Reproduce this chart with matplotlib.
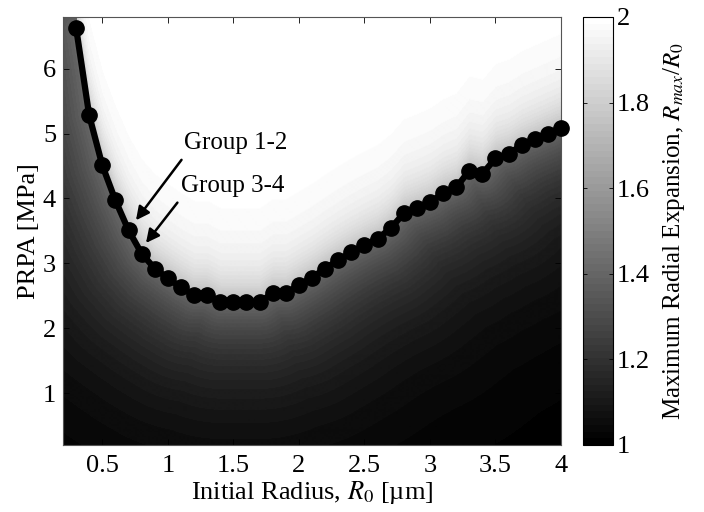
import numpy as np
import matplotlib.pyplot as plt
from matplotlib.colors import ListedColormap

plt.rcParams['font.family'] = ['Liberation Serif', 'DejaVu Serif']
plt.rcParams['mathtext.fontset'] = 'stix'
plt.rcParams['font.size'] = 19

# threshold curve
r0 = [0.3, 0.4, 0.5, 0.6, 0.7, 0.8, 0.9, 1.0, 1.1, 1.2, 1.3, 1.4, 1.5,
      1.6, 1.7, 1.8, 1.9, 2.0, 2.1, 2.2, 2.3, 2.4, 2.5, 2.6, 2.7, 2.8,
      2.9, 3.0, 3.1, 3.2, 3.3, 3.4, 3.5, 3.6, 3.7, 3.8, 3.9, 4.0]
prpa = [6.63, 5.28, 4.51, 3.97, 3.51, 3.15, 2.92, 2.77, 2.63, 2.51, 2.51,
        2.40, 2.40, 2.40, 2.40, 2.54, 2.54, 2.66, 2.78, 2.92, 3.05, 3.17,
        3.28, 3.38, 3.54, 3.77, 3.85, 3.94, 4.08, 4.17, 4.43, 4.38, 4.62,
        4.69, 4.82, 4.91, 5.00, 5.09]

xticks = [0.5, 1, 1.5, 2, 2.5, 3, 3.5, 4]
yticks = [1, 2, 3, 4, 5, 6]
cticks = [1, 1.2, 1.4, 1.6, 1.8, 2]

xlim = (0.2, 4.0)
ylim = (0.2, 6.8)

fig = plt.figure(figsize=(7.04, 5.12), dpi=100)
ax = fig.add_axes([0.0895, 0.131, 0.7074, 0.836])
cax = fig.add_axes([0.828, 0.131, 0.0426, 0.836])

# background map built around the threshold curve:
# below it the grey fades with pixel distance, above it goes white quickly
sx = 498 / (xlim[1] - xlim[0])
sy = 428 / (ylim[1] - ylim[0])
gx = np.linspace(xlim[0], xlim[1], 500)
gy = np.linspace(ylim[0], ylim[1], 430)
X, Y = np.meshgrid(gx, gy)
cx = np.array(r0) * sx
cy = np.array(prpa) * sy
px, py = X * sx, Y * sy
dist = np.full(X.shape, np.inf)
for i in range(len(cx) - 1):
    dx, dy = cx[i+1] - cx[i], cy[i+1] - cy[i]
    t = np.clip(((px - cx[i]) * dx + (py - cy[i]) * dy) / (dx*dx + dy*dy), 0, 1)
    d = np.hypot(px - cx[i] - t*dx, py - cy[i] - t*dy)
    dist = np.minimum(dist, d)
pc = np.interp(X, r0, prpa)
above = (Y > pc) & (X >= r0[0])
field = np.where(above, 2 - 0.28*np.exp(-(Y - pc)/0.5), 1 + 0.42*np.exp(-dist/72))

cmap = ListedColormap(plt.get_cmap('gray')(np.linspace(0, 1, 64)))
im = ax.imshow(field, extent=[xlim[0], xlim[1], ylim[0], ylim[1]], origin='lower',
               cmap=cmap, vmin=1, vmax=2, aspect='auto', interpolation='bilinear')

ax.plot(r0, prpa, '-o', color='k', lw=4.5, ms=11, clip_on=False, zorder=3)

ax.text(1.125, 4.86, 'Group 1-2', va='center', ha='left', fontsize=18)
ax.text(1.10, 4.20, 'Group 3-4', va='center', ha='left', fontsize=18)
ax.annotate('', xy=(0.744, 3.63), xytext=(1.117, 4.63),
            arrowprops=dict(arrowstyle='-|>', color='k', lw=1.8, mutation_scale=20))
ax.annotate('', xy=(0.82, 3.28), xytext=(1.086, 3.97),
            arrowprops=dict(arrowstyle='-|>', color='k', lw=1.8, mutation_scale=20))

ax.set_xlim(xlim)
ax.set_ylim(ylim)
ax.set_xticks(xticks)
ax.set_xticklabels(['%g' % v for v in xticks])
ax.set_yticks(yticks)
ax.tick_params(direction='in', top=True, right=True, length=4, width=0.6, pad=7)
ax.tick_params(axis='y', pad=5)
for s in ax.spines.values():
    s.set_color('#555555')
    s.set_linewidth(0.8)
ax.set_xlabel(r'Initial Radius, $R_{\mathit{0}}$ [µm]', labelpad=2)
ax.set_ylabel('PRPA [MPa]', labelpad=2)

cb = fig.colorbar(im, cax=cax, ticks=cticks)
cb.ax.set_yticklabels(['%g' % v for v in cticks])
cb.ax.tick_params(direction='in', left=True, right=True, length=3, width=0.6, pad=3)
cb.outline.set_linewidth(0.8)
cb.set_label(r'Maximum Radial Expansion, $R_{max}$/$R_{\mathit{0}}$', fontsize=18, labelpad=8)

fig.savefig('out.png', dpi=100)
